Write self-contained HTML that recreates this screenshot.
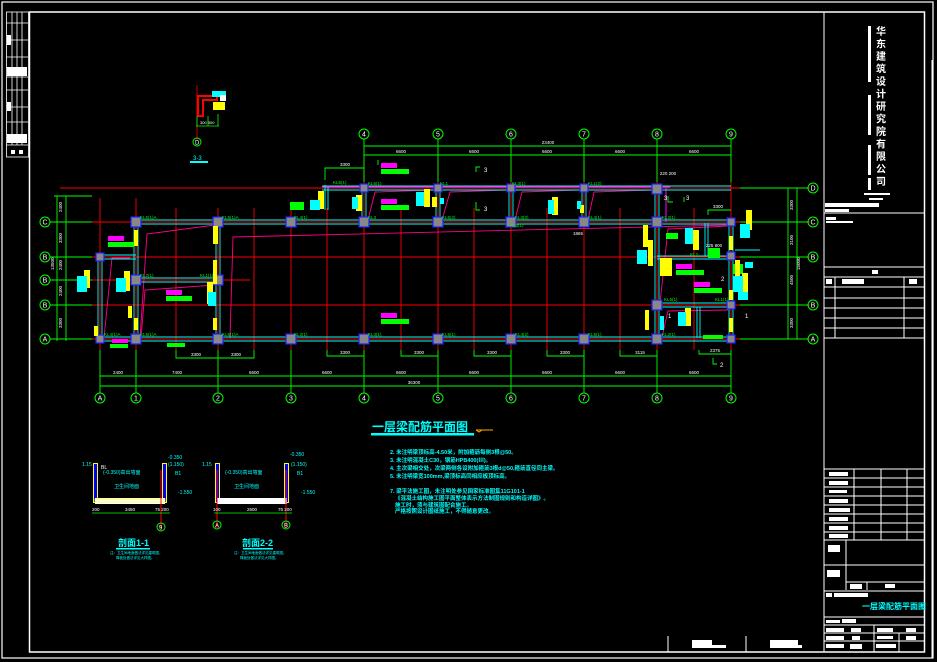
<!DOCTYPE html>
<html><head><meta charset="utf-8">
<style>
html,body{margin:0;padding:0;background:#000;}
svg{display:block;}
text{font-family:"Liberation Sans","Noto Sans CJK SC",sans-serif;}
</style></head>
<body>
<svg width="937" height="662" viewBox="0 0 937 662" xmlns="http://www.w3.org/2000/svg">
<rect width="937" height="662" fill="#000"/>
<!-- outer frames -->
<rect x="2" y="2" width="931" height="656" fill="none" stroke="#fff" stroke-width="1.2"/>
<rect x="29.5" y="12" width="895" height="640" fill="none" stroke="#fff" stroke-width="1.5"/>
<line x1="932" y1="60" x2="932" y2="658" stroke="#fff" stroke-width="1"/>
<!-- left strip table -->
<g stroke="#fff" stroke-width="0.8" fill="none">
<rect x="6.5" y="12" width="22" height="145"/>
<line x1="12" y1="12" x2="12" y2="145"/><line x1="17" y1="12" x2="17" y2="145"/><line x1="22" y1="12" x2="22" y2="145"/>
<line x1="6.5" y1="23" x2="28" y2="23"/><line x1="6.5" y1="40" x2="28" y2="40"/><line x1="6.5" y1="57" x2="28" y2="57"/><line x1="6.5" y1="77" x2="28" y2="77"/><line x1="6.5" y1="90" x2="28" y2="90"/><line x1="6.5" y1="107" x2="28" y2="107"/><line x1="6.5" y1="122" x2="28" y2="122"/><line x1="6.5" y1="145" x2="28" y2="145"/>
</g>
<g fill="#fff"><rect x="7" y="35" width="4" height="10"/><rect x="7" y="67" width="20" height="9"/><rect x="7" y="102" width="4" height="9"/><rect x="7" y="134" width="20" height="9"/><rect x="11" y="150" width="4" height="4"/><rect x="19" y="150" width="4" height="4"/></g>

<!-- small detail top -->
<line x1="197" y1="85" x2="197" y2="140" stroke="#f00" stroke-width="0.8"/>
<path d="M198 96 L217 96 L217 100 L203 100 L203 116 L198 116 Z" fill="none" stroke="#f00" stroke-width="2"/>
<rect x="212" y="91" width="14" height="6" fill="#0ff"/><rect x="213" y="102" width="12" height="8" fill="#ff0"/><rect x="220" y="95" width="6" height="6" fill="#fff"/>
<g stroke="#0f0" stroke-width="0.8"><line x1="196" y1="126" x2="219" y2="126"/><line x1="197" y1="116" x2="197" y2="126"/><line x1="208" y1="116" x2="208" y2="126"/><line x1="218" y1="114" x2="218" y2="126"/></g>
<text x="200" y="124" fill="#fff" font-size="4">300 300</text>
<circle cx="197" cy="142" r="4" fill="none" stroke="#0f0" stroke-width="1"/><text x="195" y="144.5" fill="#fff" font-size="6">D</text>
<rect x="190" y="161" width="18" height="2" fill="#0ff"/><text x="193" y="160" fill="#0ff" font-size="6">3-3</text>

<!-- red axis lines -->
<g stroke="#f00" stroke-width="0.9">
<line x1="60" y1="188" x2="810" y2="188"/>
<line x1="60" y1="222" x2="810" y2="222"/>
<line x1="60" y1="257" x2="810" y2="257"/>
<line x1="60" y1="280" x2="250" y2="280"/>
<line x1="60" y1="305" x2="810" y2="305"/>
<line x1="60" y1="339" x2="810" y2="339"/>
<line x1="100" y1="198" x2="100" y2="350"/><line x1="136" y1="198" x2="136" y2="350"/>
<line x1="218" y1="208" x2="218" y2="350"/><line x1="291" y1="208" x2="291" y2="350"/>
<line x1="364" y1="160" x2="364" y2="350"/><line x1="438" y1="160" x2="438" y2="350"/>
<line x1="511" y1="160" x2="511" y2="350"/><line x1="584" y1="160" x2="584" y2="350"/>
<line x1="657" y1="160" x2="657" y2="350"/><line x1="731" y1="160" x2="731" y2="350"/>
<line x1="176" y1="208" x2="176" y2="350"/><line x1="254" y1="208" x2="254" y2="350"/>
<line x1="327" y1="208" x2="327" y2="350"/><line x1="401" y1="208" x2="401" y2="350"/>
<line x1="474" y1="208" x2="474" y2="350"/><line x1="547" y1="208" x2="547" y2="350"/>
<line x1="620" y1="208" x2="620" y2="350"/><line x1="694" y1="208" x2="694" y2="350"/>
</g>

<!-- magenta slanted lines -->
<g stroke="#f08" stroke-width="0.9" fill="none">
<path d="M104 338 L112 258 L130 258"/>
<path d="M140 338 L147 234 L215 225"/>
<path d="M141 338 L145 290 L215 285"/>
<path d="M230 338 L233 237 L730 225"/>
<path d="M368 220 L375 192 L435 190"/>
<path d="M442 220 L450 192 L508 190"/>
<path d="M515 220 L522 192 L580 190"/>
<path d="M588 220 L594 192 L654 190"/>
<path d="M660 303 L668 229 L728 226"/>
<path d="M662 337 L668 311 L728 310"/>
</g>
<line x1="322" y1="187" x2="670" y2="187" stroke="#f0f" stroke-width="1"/>
<line x1="666" y1="188" x2="666" y2="222" stroke="#f0f" stroke-width="1"/>

<!-- cyan beams -->
<g stroke="#0ff" stroke-width="0.9" fill="none">
<line x1="100" y1="337" x2="731" y2="337"/><line x1="100" y1="341" x2="731" y2="341"/>
<line x1="136" y1="220" x2="731" y2="220"/><line x1="136" y1="224" x2="731" y2="224"/>
<line x1="322" y1="186" x2="731" y2="186"/><line x1="322" y1="190" x2="731" y2="190"/>
<line x1="98" y1="257" x2="98" y2="339"/><line x1="102" y1="257" x2="102" y2="339"/>
<line x1="134" y1="222" x2="134" y2="339"/><line x1="138" y1="222" x2="138" y2="339"/>
<line x1="216" y1="222" x2="216" y2="339"/><line x1="220" y1="222" x2="220" y2="339"/>
<line x1="100" y1="255" x2="136" y2="255"/><line x1="100" y1="259" x2="136" y2="259"/>
<line x1="136" y1="278" x2="218" y2="278"/><line x1="136" y1="282" x2="218" y2="282"/>
<line x1="655" y1="188" x2="655" y2="339"/><line x1="659" y1="188" x2="659" y2="339"/>
<line x1="729" y1="222" x2="729" y2="339"/><line x1="733" y1="222" x2="733" y2="339"/>
<line x1="657" y1="256" x2="731" y2="256"/><line x1="657" y1="259" x2="731" y2="259"/>
<line x1="657" y1="303" x2="731" y2="303"/><line x1="657" y1="307" x2="731" y2="307"/>
<line x1="362" y1="188" x2="362" y2="222"/><line x1="366" y1="188" x2="366" y2="222"/>
<line x1="509" y1="188" x2="509" y2="222"/><line x1="513" y1="188" x2="513" y2="222"/>
<line x1="436" y1="188" x2="436" y2="222"/><line x1="440" y1="188" x2="440" y2="222"/>
<line x1="582" y1="188" x2="582" y2="222"/><line x1="586" y1="188" x2="586" y2="222"/>
<line x1="325" y1="185" x2="325" y2="210"/><line x1="328" y1="187" x2="328" y2="210"/>
<line x1="705" y1="223" x2="705" y2="256"/><line x1="708" y1="223" x2="708" y2="256"/>
<line x1="697" y1="307" x2="697" y2="338"/><line x1="700" y1="307" x2="700" y2="338"/>
<line x1="735" y1="250" x2="760" y2="250"/>
</g>

<!-- columns -->
<g fill="#888" stroke="#22f" stroke-width="1.2">
<rect x="96" y="335" width="8" height="8"/><rect x="131" y="334" width="10" height="10"/><rect x="213" y="334" width="10" height="10"/>
<rect x="286" y="334" width="10" height="10"/><rect x="359" y="334" width="10" height="10"/><rect x="433" y="334" width="10" height="10"/>
<rect x="506" y="334" width="10" height="10"/><rect x="579" y="334" width="10" height="10"/><rect x="652" y="334" width="10" height="10"/><rect x="727" y="335" width="8" height="8"/>
<rect x="131" y="217" width="10" height="10"/><rect x="213" y="217" width="10" height="10"/><rect x="286" y="217" width="10" height="10"/>
<rect x="359" y="217" width="10" height="10"/><rect x="433" y="217" width="10" height="10"/><rect x="506" y="217" width="10" height="10"/>
<rect x="579" y="217" width="10" height="10"/><rect x="652" y="217" width="10" height="10"/><rect x="727" y="218" width="8" height="8"/>
<rect x="360" y="184" width="8" height="8"/><rect x="434" y="184" width="8" height="8"/><rect x="507" y="184" width="8" height="8"/><rect x="580" y="184" width="8" height="8"/><rect x="652" y="184" width="10" height="10"/>
<rect x="96" y="253" width="8" height="8"/><rect x="131" y="275" width="10" height="10"/><rect x="213" y="275" width="10" height="10"/>
<rect x="652" y="300" width="10" height="10"/><rect x="727" y="301" width="8" height="8"/><rect x="727" y="252" width="8" height="8"/>
</g>

<!-- green dimension lines -->
<g stroke="#0f0" stroke-width="0.9" fill="none">
<line x1="100" y1="376" x2="731" y2="376"/><line x1="100" y1="386" x2="731" y2="386"/>
<line x1="364" y1="146" x2="731" y2="146"/><line x1="364" y1="155" x2="731" y2="155"/>
<line x1="57" y1="196" x2="57" y2="341"/><line x1="66" y1="196" x2="66" y2="341"/>
<line x1="54" y1="196" x2="92" y2="196"/>
<line x1="788" y1="188" x2="788" y2="339"/><line x1="797" y1="188" x2="797" y2="339"/>
<line x1="100" y1="350" x2="100" y2="393"/><line x1="136" y1="350" x2="136" y2="393"/><line x1="218" y1="350" x2="218" y2="393"/>
<line x1="291" y1="350" x2="291" y2="393"/><line x1="364" y1="350" x2="364" y2="393"/><line x1="438" y1="350" x2="438" y2="393"/>
<line x1="511" y1="350" x2="511" y2="393"/><line x1="584" y1="350" x2="584" y2="393"/><line x1="657" y1="350" x2="657" y2="393"/><line x1="731" y1="350" x2="731" y2="393"/>
<line x1="364" y1="139" x2="364" y2="182"/><line x1="438" y1="139" x2="438" y2="182"/><line x1="511" y1="139" x2="511" y2="182"/>
<line x1="584" y1="139" x2="584" y2="182"/><line x1="657" y1="139" x2="657" y2="182"/><line x1="731" y1="139" x2="731" y2="182"/>
<line x1="50" y1="222" x2="92" y2="222"/><line x1="50" y1="257" x2="92" y2="257"/><line x1="50" y1="280" x2="92" y2="280"/><line x1="50" y1="305" x2="92" y2="305"/><line x1="50" y1="339" x2="92" y2="339"/>
<line x1="740" y1="188" x2="808" y2="188"/><line x1="740" y1="222" x2="808" y2="222"/><line x1="740" y1="257" x2="808" y2="257"/><line x1="740" y1="305" x2="808" y2="305"/><line x1="740" y1="339" x2="808" y2="339"/>
<path d="M176 350 L176 358 L254 358 L254 350"/><path d="M327 350 L327 356 L364 356"/>
<path d="M401 350 L401 356 L438 356"/><path d="M474 350 L474 356 L511 356"/><path d="M547 350 L547 356 L584 356"/>
<path d="M620 350 L620 356 L657 356"/><path d="M699 350 L699 354 L731 354"/>
<path d="M325 180 L325 168 L364 168"/><path d="M378 160 L378 165"/>
<path d="M708 215 L708 210 L731 210"/>
<path d="M476 172 L476 167 L480 167"/><path d="M476 202 L476 210 L480 210"/>
<path d="M668 196 L668 202 L673 202"/><path d="M684 202 L684 197"/>
<path d="M713 358 L713 364 L717 364"/>
</g>

<!-- grid bubbles -->
<g fill="none" stroke="#0f0" stroke-width="1">
<circle cx="100" cy="398" r="5"/><circle cx="136" cy="398" r="5"/><circle cx="218" cy="398" r="5"/><circle cx="291" cy="398" r="5"/><circle cx="364" cy="398" r="5"/><circle cx="438" cy="398" r="5"/><circle cx="511" cy="398" r="5"/><circle cx="584" cy="398" r="5"/><circle cx="657" cy="398" r="5"/><circle cx="731" cy="398" r="5"/>
<circle cx="364" cy="134" r="5"/><circle cx="438" cy="134" r="5"/><circle cx="511" cy="134" r="5"/><circle cx="584" cy="134" r="5"/><circle cx="657" cy="134" r="5"/><circle cx="731" cy="134" r="5"/>
<circle cx="45" cy="222" r="5"/><circle cx="45" cy="257" r="5"/><circle cx="45" cy="280" r="5"/><circle cx="45" cy="305" r="5"/><circle cx="45" cy="339" r="5"/>
<circle cx="813" cy="188" r="5"/><circle cx="813" cy="222" r="5"/><circle cx="813" cy="257" r="5"/><circle cx="813" cy="305" r="5"/><circle cx="813" cy="339" r="5"/>
</g>
<g fill="#fff" font-size="7" text-anchor="middle">
<text x="100" y="400.5">A</text><text x="136" y="400.5">1</text><text x="218" y="400.5">2</text><text x="291" y="400.5">3</text><text x="364" y="400.5">4</text><text x="438" y="400.5">5</text><text x="511" y="400.5">6</text><text x="584" y="400.5">7</text><text x="657" y="400.5">8</text><text x="731" y="400.5">9</text>
<text x="364" y="136.5">4</text><text x="438" y="136.5">5</text><text x="511" y="136.5">6</text><text x="584" y="136.5">7</text><text x="657" y="136.5">8</text><text x="731" y="136.5">9</text>
<text x="45" y="224.5">C</text><text x="45" y="259.5">B</text><text x="45" y="282.5">B</text><text x="45" y="307.5">B</text><text x="45" y="341.5">A</text>
<text x="813" y="190.5">D</text><text x="813" y="224.5">C</text><text x="813" y="259.5">B</text><text x="813" y="307.5">B</text><text x="813" y="341.5">A</text>
</g>

<!-- dimension texts -->
<g fill="#fff" font-size="4.5" text-anchor="middle">
<text x="118" y="374">2400</text><text x="177" y="374">7400</text><text x="254" y="374">6600</text><text x="327" y="374">6600</text><text x="401" y="374">6600</text><text x="474" y="374">6600</text><text x="547" y="374">6600</text><text x="620" y="374">6600</text><text x="694" y="374">6600</text>
<text x="414" y="384">36300</text>
<text x="548" y="144">23400</text>
<text x="401" y="153">6600</text><text x="474" y="153">6600</text><text x="547" y="153">6600</text><text x="620" y="153">6600</text><text x="694" y="153">6600</text>
<text x="196" y="356">3300</text><text x="236" y="356">3300</text><text x="345" y="354">3300</text><text x="419" y="354">3300</text><text x="492" y="354">3300</text><text x="565" y="354">3300</text><text x="640" y="354">3115</text><text x="715" y="352">2375</text>
<text x="345" y="166">3300</text><text x="718" y="208">3300</text>
<text x="668" y="175">220 200</text><text x="714" y="247">225 800</text><text x="578" y="235">1865</text>
</g>
<g fill="#fff" font-size="4.5">
<text x="62" y="212" transform="rotate(-90 62 212)">2400</text>
<text x="62" y="243" transform="rotate(-90 62 243)">3300</text>
<text x="62" y="270" transform="rotate(-90 62 270)">2400</text>
<text x="62" y="296" transform="rotate(-90 62 296)">2400</text>
<text x="62" y="328" transform="rotate(-90 62 328)">3300</text>
<text x="54" y="270" transform="rotate(-90 54 270)">13500</text>
<text x="793" y="210" transform="rotate(-90 793 210)">3300</text>
<text x="793" y="245" transform="rotate(-90 793 245)">3100</text>
<text x="793" y="285" transform="rotate(-90 793 285)">4500</text>
<text x="793" y="328" transform="rotate(-90 793 328)">3300</text>
<text x="800" y="270" transform="rotate(-90 800 270)">15000</text>
</g>
<g fill="#fff" font-size="6"><text x="484" y="172">3</text><text x="484" y="211">3</text><text x="664" y="200">3</text><text x="686" y="200">3</text><text x="720" y="367">2</text><text x="721" y="281">2</text><text x="668" y="318">1</text><text x="745" y="318">1</text></g>

<!-- beam labels green -->
<g fill="#0f0" font-size="4.5">
<text x="140" y="219">KL5(1)A</text><text x="222" y="219">KL5(1)A</text><text x="294" y="219">KL4(1)</text><text x="368" y="219">KL3</text><text x="442" y="219">KL6(2)</text><text x="515" y="219">KL3(2)</text><text x="588" y="219">KL4(1)</text><text x="662" y="219">KL2(1)</text>
<text x="140" y="336">KL6(1)A</text><text x="222" y="336">KL6(1)A</text><text x="294" y="336">KL2(1)</text><text x="368" y="336">KL3(1)</text><text x="442" y="336">KL5(1)</text><text x="515" y="336">KL4(2)</text><text x="588" y="336">KL5(1)</text><text x="662" y="336">KL2(1)</text>
<text x="140" y="277">KL2(1)</text><text x="200" y="277">KL1(1)</text><text x="104" y="336">KL4(1)A</text>
<text x="368" y="185">KL6(1)</text><text x="440" y="185">KL1</text><text x="512" y="185">KL3(1)</text><text x="588" y="185">KL1(2)</text>
<text x="333" y="184">KL6(1)</text><text x="510" y="227">KL3(1)</text>
<text x="664" y="301">KL5(1)</text><text x="715" y="301">KL1(1)</text><text x="690" y="256">KL2</text>
</g>
<!-- colored annotation blocks -->
<g>
<g fill="#f0f"><rect x="108" y="236" width="16" height="5"/><rect x="166" y="290" width="16" height="5"/><rect x="381" y="163" width="16" height="5"/><rect x="381" y="199" width="16" height="5"/><rect x="381" y="313" width="16" height="5"/><rect x="676" y="264" width="16" height="5"/><rect x="694" y="282" width="16" height="5"/><rect x="112" y="339" width="16" height="4"/></g>
<g fill="#0f0"><rect x="108" y="242" width="26" height="5"/><rect x="166" y="296" width="26" height="5"/><rect x="381" y="169" width="28" height="5"/><rect x="381" y="205" width="28" height="5"/><rect x="381" y="319" width="28" height="5"/><rect x="676" y="270" width="28" height="5"/><rect x="694" y="288" width="28" height="5"/><rect x="110" y="344" width="18" height="4"/><rect x="167" y="343" width="18" height="4"/><rect x="290" y="202" width="14" height="8"/><rect x="703" y="335" width="20" height="4"/><rect x="708" y="248" width="12" height="10"/><rect x="666" y="233" width="12" height="6"/><rect x="733" y="264" width="10" height="10"/></g>
<g fill="#ff0"><rect x="84" y="270" width="6" height="18"/><rect x="124" y="271" width="6" height="20"/><rect x="134" y="230" width="4" height="16"/><rect x="213" y="226" width="5" height="18"/><rect x="213" y="260" width="4" height="24"/><rect x="207" y="282" width="6" height="22"/><rect x="213" y="318" width="4" height="12"/><rect x="134" y="318" width="4" height="12"/><rect x="128" y="306" width="4" height="12"/><rect x="94" y="326" width="4" height="10"/><rect x="318" y="191" width="6" height="18"/><rect x="356" y="195" width="6" height="16"/><rect x="424" y="189" width="6" height="18"/><rect x="432" y="197" width="5" height="10"/><rect x="552" y="197" width="6" height="18"/><rect x="580" y="205" width="4" height="8"/><rect x="643" y="225" width="5" height="22"/><rect x="648" y="240" width="5" height="26"/><rect x="660" y="258" width="12" height="18"/><rect x="693" y="230" width="6" height="20"/><rect x="746" y="210" width="6" height="20"/><rect x="735" y="260" width="5" height="16"/><rect x="742" y="273" width="6" height="20"/><rect x="685" y="308" width="6" height="18"/><rect x="645" y="310" width="4" height="20"/><rect x="729" y="236" width="4" height="14"/><rect x="729" y="290" width="4" height="10"/><rect x="729" y="318" width="4" height="14"/></g>
<g fill="#0ff"><rect x="77" y="276" width="10" height="16"/><rect x="116" y="278" width="10" height="14"/><rect x="208" y="292" width="8" height="14"/><rect x="310" y="200" width="10" height="10"/><rect x="352" y="197" width="6" height="12"/><rect x="416" y="192" width="8" height="14"/><rect x="548" y="200" width="6" height="14"/><rect x="577" y="201" width="4" height="8"/><rect x="440" y="198" width="4" height="6"/><rect x="637" y="250" width="10" height="14"/><rect x="685" y="228" width="8" height="16"/><rect x="740" y="224" width="10" height="14"/><rect x="733" y="276" width="10" height="16"/><rect x="678" y="312" width="8" height="14"/><rect x="660" y="316" width="4" height="14"/><rect x="738" y="292" width="10" height="8"/><rect x="745" y="262" width="8" height="6"/></g>
</g>

<!-- title -->
<text x="372" y="431" fill="#0ff" font-size="12" font-weight="bold">一层梁配筋平面图</text>
<rect x="371" y="433" width="103" height="2.5" fill="#0ff"/>
<line x1="476" y1="430" x2="493" y2="430" stroke="#fa0" stroke-width="1"/><path d="M476 430 l3 2 l3 -2" fill="none" stroke="#fa0" stroke-width="1"/>

<!-- notes -->
<g fill="#0ff" font-size="5.5" font-weight="bold">
<text x="390" y="454">2. 未注明梁顶标高-4.50米，附加箍筋每侧3根@50。</text>
<text x="390" y="462">3. 未注明混凝土C30，钢筋HPB400(Ⅲ)。</text>
<text x="390" y="470">4. 主次梁相交处，次梁两侧各设附加箍筋3根d@50,箍筋直径同主梁。</text>
<text x="390" y="478">5. 未注明梁宽100mm,梁顶标高同相应板顶标高。</text>
<text x="390" y="493">7. 梁平法施工图，未注明处参见国家标准图集11G101-1</text>
<text x="395" y="500">《混凝土结构施工图平面整体表示方法制图规则和构造详图》。</text>
<text x="395" y="507">施工时，须与建筑图配合施工。</text>
<text x="395" y="513">严格按照设计图纸施工，不得随意更改。</text>
</g>

<!-- section 1-1 -->
<g>
<rect x="93" y="463" width="5" height="40" fill="#ff0"/><rect x="94" y="464" width="3" height="38" fill="#00f"/>
<rect x="162" y="463" width="5" height="40" fill="#ff0"/><rect x="163" y="464" width="3" height="38" fill="#00f"/>
<rect x="95" y="498" width="70" height="6" fill="#fff"/><rect x="95" y="499" width="70" height="3" fill="none" stroke="#ff0" stroke-width="0.7"/>
<line x1="161" y1="470" x2="161" y2="530" stroke="#f00" stroke-width="1"/>
<line x1="92" y1="513" x2="170" y2="513" stroke="#0f0" stroke-width="0.8"/>
<circle cx="161" cy="527" r="4" fill="none" stroke="#0f0"/><text x="159" y="529.5" fill="#fff" font-size="6">9</text>
<g fill="#0ff" font-size="5"><text x="82" y="466">1.15</text><text x="168" y="459">-0.350</text><text x="168" y="466">(1.150)</text><text x="175" y="475">B1</text><text x="178" y="494">-1.550</text><text x="103" y="474">(-0.350)高出墙面</text><text x="114" y="488">卫生间地面</text></g>
<text x="101" y="469" fill="#fff" font-size="5">BL</text>
<g fill="#fff" font-size="4.5"><text x="92" y="511">200</text><text x="125" y="511">3450</text><text x="155" y="511">75 200</text></g>
<text x="118" y="546" fill="#0ff" font-size="9" font-weight="bold">剖面1-1</text>
<rect x="116" y="548" width="34" height="1.5" fill="#0ff"/>
<text x="110" y="554" fill="#0ff" font-size="3.5">注：卫生间地面做法详见建筑图。</text>
<text x="116" y="559" fill="#0ff" font-size="3.5">降板处做法详见大样图。</text>
</g>
<!-- section 2-2 -->
<g>
<rect x="215" y="463" width="5" height="40" fill="#ff0"/><rect x="216" y="464" width="3" height="38" fill="#00f"/>
<rect x="284" y="463" width="5" height="40" fill="#ff0"/><rect x="285" y="464" width="3" height="38" fill="#00f"/>
<rect x="217" y="498" width="70" height="6" fill="#fff"/>
<line x1="217" y1="470" x2="217" y2="528" stroke="#f00" stroke-width="1"/>
<line x1="286" y1="470" x2="286" y2="528" stroke="#f00" stroke-width="1"/>
<line x1="214" y1="513" x2="292" y2="513" stroke="#0f0" stroke-width="0.8"/>
<circle cx="217" cy="525" r="4" fill="none" stroke="#0f0"/><text x="215" y="527.5" fill="#fff" font-size="6">A</text>
<circle cx="286" cy="525" r="4" fill="none" stroke="#0f0"/><text x="284" y="527.5" fill="#fff" font-size="6">B</text>
<g fill="#0ff" font-size="5"><text x="202" y="466">1.15</text><text x="290" y="456">-0.350</text><text x="291" y="466">(1.150)</text><text x="297" y="475">B1</text><text x="301" y="494">-1.550</text><text x="225" y="474">(-0.350)高出墙面</text><text x="234" y="488">卫生间地面</text></g>
<g fill="#fff" font-size="4.5"><text x="213" y="511">100</text><text x="247" y="511">2600</text><text x="278" y="511">75 200</text></g>
<text x="242" y="546" fill="#0ff" font-size="9" font-weight="bold">剖面2-2</text>
<rect x="243" y="548" width="30" height="1.5" fill="#0ff"/>
<text x="234" y="554" fill="#0ff" font-size="3.5">注：卫生间地面做法详见建筑图。</text>
<text x="240" y="559" fill="#0ff" font-size="3.5">降板处做法详见大样图。</text>
</g>

<!-- right title block -->
<g stroke="#fff" stroke-width="1" fill="none">
<line x1="824" y1="12" x2="824" y2="652"/>
<line x1="824" y1="213" x2="924" y2="213"/>
<line x1="824" y1="267" x2="924" y2="267"/>
<line x1="824" y1="277" x2="924" y2="277"/>
<line x1="824" y1="287" x2="924" y2="287"/>
<line x1="824" y1="298" x2="924" y2="298"/><line x1="824" y1="308" x2="924" y2="308"/><line x1="824" y1="318" x2="924" y2="318"/><line x1="824" y1="328" x2="924" y2="328"/><line x1="824" y1="338" x2="924" y2="338"/>
<line x1="835" y1="277" x2="835" y2="338"/><line x1="904" y1="277" x2="904" y2="338"/>
<line x1="824" y1="469" x2="924" y2="469"/><line x1="824" y1="478" x2="924" y2="478"/><line x1="824" y1="487" x2="924" y2="487"/><line x1="824" y1="496" x2="924" y2="496"/><line x1="824" y1="505" x2="924" y2="505"/><line x1="824" y1="514" x2="924" y2="514"/><line x1="824" y1="523" x2="924" y2="523"/><line x1="824" y1="532" x2="924" y2="532"/><line x1="824" y1="540" x2="924" y2="540"/>
<line x1="854" y1="469" x2="854" y2="540"/><line x1="881" y1="469" x2="881" y2="540"/><line x1="907" y1="469" x2="907" y2="540"/>
<line x1="824" y1="565" x2="924" y2="565"/><line x1="846" y1="540" x2="846" y2="590"/>
<line x1="846" y1="582" x2="924" y2="582"/><line x1="867" y1="582" x2="867" y2="590"/>
<line x1="824" y1="591" x2="924" y2="591"/>
<line x1="824" y1="617" x2="924" y2="617"/><line x1="824" y1="625" x2="924" y2="625"/>
<line x1="824" y1="633" x2="924" y2="633"/><line x1="824" y1="641" x2="924" y2="641"/>
<line x1="874" y1="625" x2="874" y2="652"/><line x1="899" y1="633" x2="899" y2="652"/>
<line x1="668" y1="636" x2="668" y2="652"/><line x1="746" y1="636" x2="746" y2="652"/>
</g>
<g fill="#fff" font-size="10" font-weight="bold" text-anchor="middle">
<text x="881" y="35">华</text><text x="881" y="47.5">东</text><text x="881" y="60">建</text><text x="881" y="72.5">筑</text><text x="881" y="85">设</text><text x="881" y="97.5">计</text><text x="881" y="110">研</text><text x="881" y="122.5">究</text><text x="881" y="135">院</text><text x="881" y="147.5">有</text><text x="881" y="160">限</text><text x="881" y="172.5">公</text><text x="881" y="185">司</text>
</g>
<g fill="#fff">
<rect x="868" y="26" width="3" height="56"/><rect x="868" y="95" width="3" height="40"/><rect x="868" y="145" width="3" height="30"/><rect x="868" y="178" width="3" height="12"/>
<rect x="864" y="193" width="26" height="2"/><rect x="869" y="198" width="14" height="2"/><rect x="825" y="203" width="54" height="4"/><rect x="825" y="209" width="24" height="3"/>
<rect x="826" y="217" width="10" height="3"/><rect x="826" y="221" width="27" height="2"/>
<rect x="872" y="270" width="6" height="4"/><rect x="826" y="279" width="6" height="5"/><rect x="842" y="279" width="22" height="5"/><rect x="909" y="279" width="8" height="5"/>
<rect x="829" y="472" width="19" height="4"/><rect x="829" y="481" width="19" height="4"/><rect x="829" y="490" width="18" height="3"/><rect x="829" y="499" width="19" height="4"/><rect x="829" y="508" width="21" height="4"/><rect x="829" y="517" width="19" height="4"/><rect x="829" y="526" width="19" height="4"/><rect x="829" y="534" width="19" height="4"/>
<rect x="828" y="545" width="12" height="7"/><rect x="827" y="570" width="13" height="7"/>
<rect x="850" y="584" width="12" height="5"/><rect x="885" y="584" width="10" height="4"/>
<rect x="826" y="593" width="6" height="4"/><rect x="834" y="593" width="34" height="4"/>
<rect x="826" y="620" width="14" height="3"/><rect x="842" y="619" width="14" height="4"/>
<rect x="826" y="628" width="18" height="4"/><rect x="851" y="628" width="10" height="4"/><rect x="877" y="628" width="16" height="4"/><rect x="906" y="628" width="10" height="4"/>
<rect x="826" y="636" width="18" height="4"/><rect x="852" y="636" width="8" height="4"/><rect x="877" y="636" width="16" height="3"/><rect x="906" y="636" width="10" height="4"/>
<rect x="826" y="644" width="18" height="4"/><rect x="850" y="644" width="12" height="5"/><rect x="876" y="644" width="20" height="4"/>
<rect x="692" y="640" width="20" height="5"/><rect x="692" y="645" width="34" height="3"/><rect x="770" y="640" width="28" height="5"/><rect x="770" y="645" width="32" height="3"/>
</g>
<text x="862" y="609" fill="#0ff" font-size="8" font-weight="bold">一层梁配筋平面图</text>
</svg>
</body></html>
